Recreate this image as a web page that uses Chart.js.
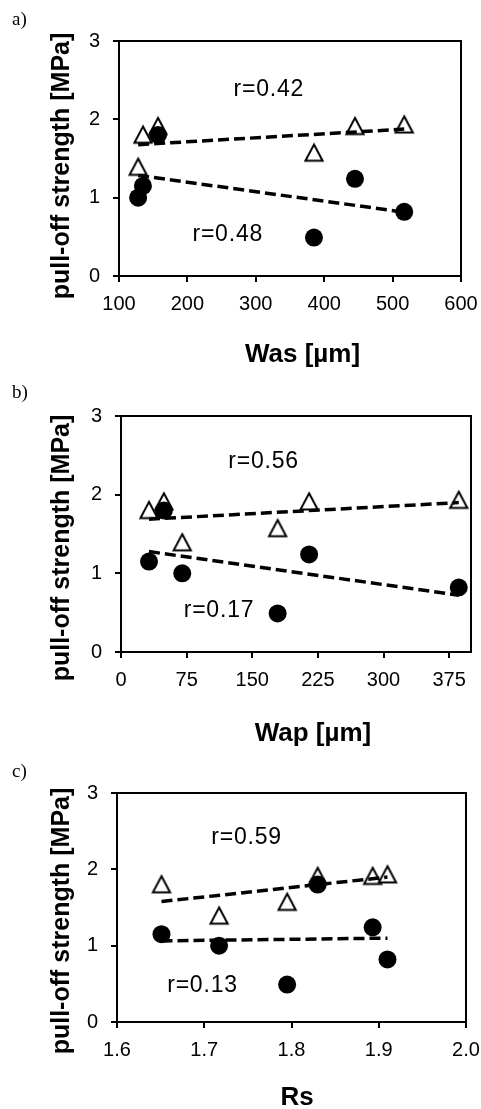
<!DOCTYPE html>
<html>
<head>
<meta charset="utf-8">
<title>pull-off strength</title>
<script src="https://cdn.jsdelivr.net/npm/chart.js@4"></script>
<style>
  html, body { margin: 0; padding: 0; background: #fff; }
  body { position: relative; width: 481px; height: 1109px; overflow: hidden; }
  canvas { position: absolute; left: 0; }
</style>
</head>
<body>
<canvas id="chartA" width="481" height="370" style="top:0px"></canvas>
<canvas id="chartB" width="481" height="385" style="top:365px"></canvas>
<canvas id="chartC" width="481" height="359" style="top:750px"></canvas>
<script>
// -------------------------------
// 1) DATA (one entry per sample)
// -------------------------------

const wasValues = [128, 135, 157, 385, 445, 517];
const wapValues = [70, 32, 49, 179, 215, 386];
const rsValues = [1.717, 1.651, 1.830, 1.795, 1.893, 1.910];

// pull-off strength [MPa]: filled circles / open triangles
const strengthCircles = [1.00, 1.15, 1.80, 0.49, 1.24, 0.82];
const strengthTriangles = [1.40, 1.81, 1.92, 1.58, 1.92, 1.94];

const strengthTicks = [0, 1, 2, 3];
const wasTicks = [100, 200, 300, 400, 500, 600];
const wapTicks = [0, 75, 150, 225, 300, 375];
const rsTicks = [1.6, 1.7, 1.8, 1.9, 2.0];


// -------------------------------
// 2) HELPERS
// -------------------------------

const SANS = "'Liberation Sans', Arial, sans-serif";
const SERIF = "'Liberation Serif', 'Times New Roman', serif";

function points(xs, ys) {
  return xs.map((x, i) => ({ x: x, y: ys[i] }));
}

// least squares line over the x range of the samples
function trendLine(xs, ys) {
  const n = xs.length;
  const mx = xs.reduce((a, b) => a + b, 0) / n;
  const my = ys.reduce((a, b) => a + b, 0) / n;
  let sxy = 0, sxx = 0;
  xs.forEach((x, i) => {
    sxy += (x - mx) * (ys[i] - my);
    sxx += (x - mx) * (x - mx);
  });
  const k = sxy / sxx;
  const x0 = Math.min(...xs), x1 = Math.max(...xs);
  return [{ x: x0, y: my + k * (x0 - mx) }, { x: x1, y: my + k * (x1 - mx) }];
}

// open triangle marker, centred on its bounding box
function makeTriangle() {
  const c = document.createElement("canvas");
  c.width = 24;
  c.height = 24;
  const g = c.getContext("2d");
  g.beginPath();
  g.moveTo(12, 4.3);
  g.lineTo(20.6, 20.6);
  g.lineTo(3.4, 20.6);
  g.closePath();
  g.fillStyle = "#fff";
  g.fill();
  g.lineWidth = 2;
  g.strokeStyle = "#000";
  g.stroke();
  return c;
}
const triangleMarker = makeTriangle();

function axis(min, max, ticks, opts) {
  return {
    type: "linear",
    min: min,
    max: max,
    afterBuildTicks: scale => { scale.ticks = ticks.map(v => ({ value: v })); },
    afterFit: opts.fit,
    ticks: {
      color: "#000",
      font: { family: SANS, size: 20 },
      padding: opts.pad,
      maxRotation: 0,
      minRotation: 0,
      autoSkip: false,
      callback: opts.format || (v => String(v))
    },
    grid: { drawOnChartArea: false, drawTicks: true, tickLength: 6, color: "#000", lineWidth: 2 },
    border: { display: true, color: "#000", width: 2 }
  };
}

// box, r-labels, axis titles and panel letter
const panelDecor = {
  id: "panelDecor",
  beforeDatasetsDraw(chart) {
    const a = chart.chartArea;
    const ctx = chart.ctx;
    ctx.save();
    ctx.strokeStyle = "#000";
    ctx.lineWidth = 2;
    ctx.strokeRect(a.left, a.top, a.right - a.left, a.bottom - a.top);
    ctx.restore();
  },
  afterDraw(chart, args, o) {
    const ctx = chart.ctx;
    const sx = chart.scales.x, sy = chart.scales.y;
    ctx.save();
    ctx.fillStyle = "#000";

    ctx.font = "23px " + SANS;
    ctx.letterSpacing = "0.8px";
    ctx.textAlign = "center";
    ctx.textBaseline = "middle";
    o.notes.forEach(n => ctx.fillText(n.text, sx.getPixelForValue(n.x), sy.getPixelForValue(n.y)));
    ctx.letterSpacing = "0px";

    ctx.textBaseline = "alphabetic";
    ctx.font = "bold 26px " + SANS;
    ctx.fillText(o.xTitle.text, o.xTitle.x, o.xTitle.y);

    ctx.save();
    ctx.translate(o.yTitle.x, o.yTitle.y);
    ctx.rotate(-Math.PI / 2);
    ctx.font = "bold 25px " + SANS;
    ctx.fillText(o.yTitle.text, 0, 0);
    ctx.restore();

    ctx.textAlign = "left";
    ctx.font = "19px " + SERIF;
    ctx.fillText(o.letter.text, o.letter.x, o.letter.y);
    ctx.restore();
  }
};


// -------------------------------
// 3) PANELS
// -------------------------------

function renderPanel(canvasId, xs, xAxis, layout, decor) {
  const canvas = document.getElementById(canvasId);
  if (!canvas) return;

  new Chart(canvas.getContext("2d"), {
    type: "scatter",
    data: {
      datasets: [
        {
          data: trendLine(xs, strengthTriangles),
          showLine: true, borderColor: "#000", borderWidth: 3.5, borderDash: [11, 5],
          pointRadius: 0, order: 0
        },
        {
          data: trendLine(xs, strengthCircles),
          showLine: true, borderColor: "#000", borderWidth: 3.5, borderDash: [11, 5],
          pointRadius: 0, order: 0
        },
        {
          data: points(xs, strengthCircles),
          pointStyle: "circle", pointRadius: 9, backgroundColor: "#000",
          borderWidth: 0, order: 1
        },
        {
          data: points(xs, strengthTriangles),
          pointStyle: triangleMarker, pointRadius: 9, order: 2
        }
      ]
    },
    options: {
      responsive: false,
      animation: false,
      devicePixelRatio: 1,
      layout: { padding: { top: layout.top, right: layout.right, bottom: 0, left: 0 } },
      plugins: {
        legend: { display: false },
        tooltip: { enabled: false },
        panelDecor: decor
      },
      scales: {
        x: xAxis,
        y: axis(0, 3, strengthTicks, {
          pad: 13,
          fit: s => { s.width = layout.left; s.paddingTop = 0; s.paddingBottom = 0; }
        })
      }
    },
    plugins: [panelDecor]
  });
}

function xFit(h) {
  return s => { s.height = h; s.paddingLeft = 0; s.paddingRight = 0; };
}

document.addEventListener("DOMContentLoaded", () => {
  renderPanel("chartA", wasValues,
    axis(100, 600, wasTicks, { pad: 10, fit: xFit(94) }),
    { top: 41, right: 20, left: 119 },
    {
      notes: [{ text: "r=0.42", x: 319, y: 2.38 }, { text: "r=0.48", x: 259, y: 0.53 }],
      xTitle: { text: "Was [µm]", x: 302.5, y: 362 },
      yTitle: { text: "pull-off strength [MPa]", x: 69, y: 166 },
      letter: { text: "a)", x: 12, y: 24.5 }
    });

  renderPanel("chartB", wapValues,
    axis(0, 400, wapTicks, { pad: 10, fit: xFit(98) }),
    { top: 51, right: 4, left: 121 },
    {
      notes: [{ text: "r=0.56", x: 163, y: 2.42 }, { text: "r=0.17", x: 112, y: 0.52 }],
      xTitle: { text: "Wap [µm]", x: 313, y: 376 },
      yTitle: { text: "pull-off strength [MPa]", x: 69, y: 183 },
      letter: { text: "b)", x: 12, y: 33 }
    });

  renderPanel("chartC", rsValues,
    axis(1.6, 2.0, rsTicks, { pad: 10, fit: xFit(87), format: v => v.toFixed(1) }),
    { top: 43, right: 15, left: 117 },
    {
      notes: [{ text: "r=0.59", x: 1.7485, y: 2.42 }, { text: "r=0.13", x: 1.698, y: 0.47 }],
      xTitle: { text: "Rs", x: 297, y: 355 },
      yTitle: { text: "pull-off strength [MPa]", x: 69, y: 171 },
      letter: { text: "c)", x: 12, y: 27 }
    });
});
</script>
</body>
</html>
